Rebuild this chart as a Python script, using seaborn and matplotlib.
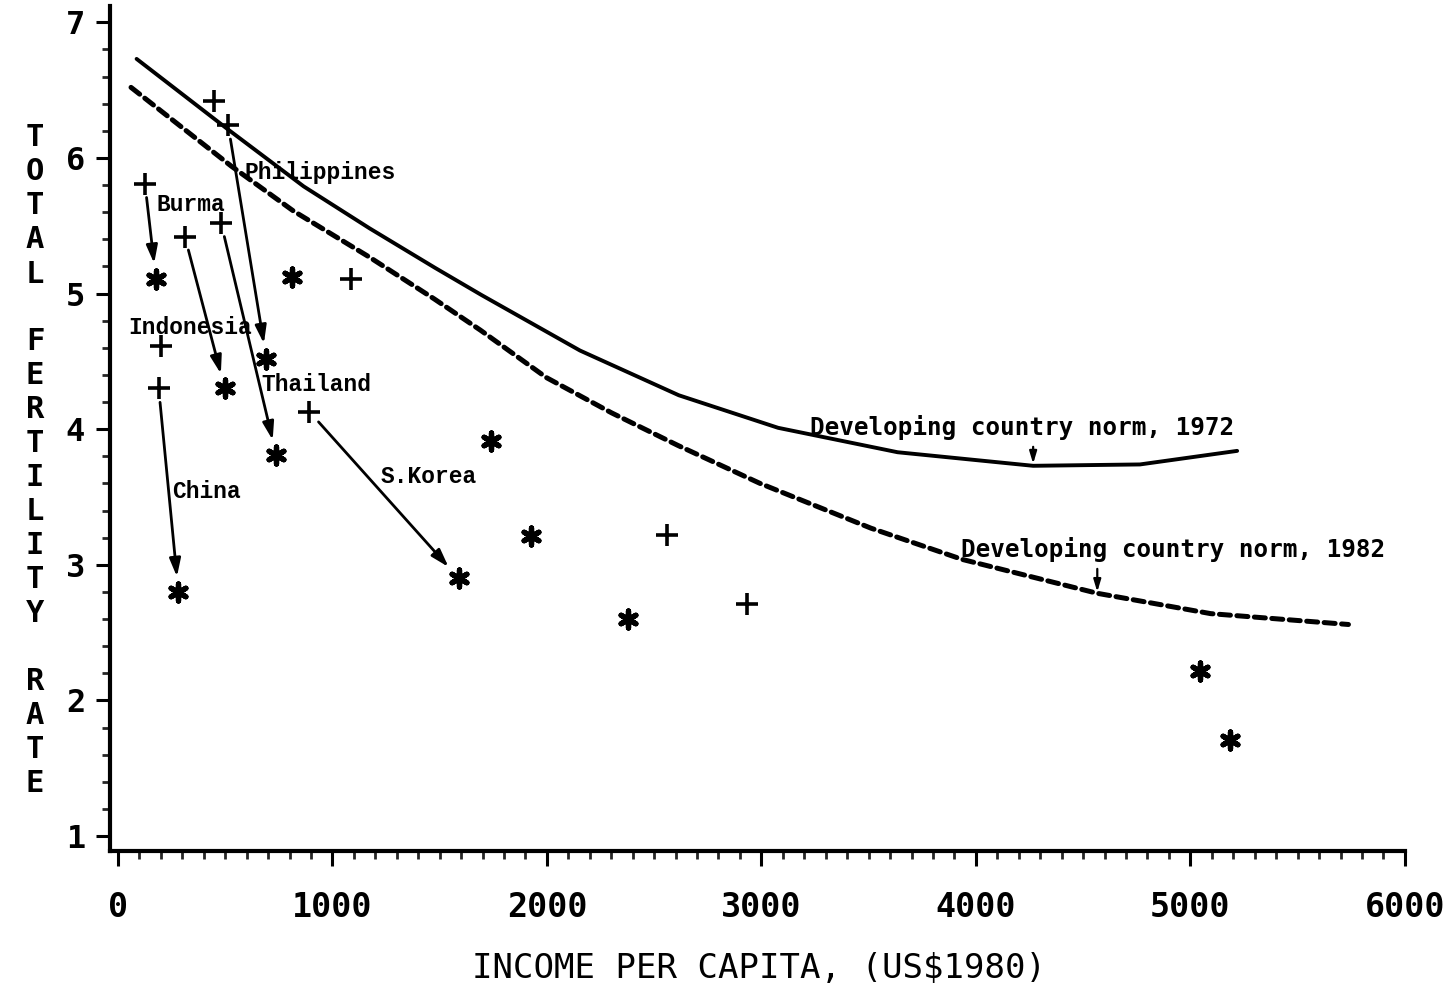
import matplotlib
matplotlib.use("Agg")
import matplotlib.pyplot as plt
from matplotlib.ticker import MultipleLocator
import numpy as np
import pandas as pd
import seaborn as sns

# ---------------- data ----------------
# "+" : 1972 observations, "*" : 1982 observations
inc_1972 = [447, 514, 126, 312, 481, 1087, 199, 190, 892, 2559, 2935]
tfr_1972 = [6.42, 6.24, 5.81, 5.42, 5.52, 5.11, 4.61, 4.30, 4.13, 3.22, 2.71]

inc_1982 = [177, 812, 692, 498, 738, 282, 1589, 1738, 1924, 2378, 5046, 5183]
tfr_1982 = [5.11, 5.12, 4.52, 4.30, 3.81, 2.80, 2.90, 3.91, 3.21, 2.60, 2.22, 1.71]

# developing-country norm curves
norm72_inc = [87, 513, 866, 1174, 1478, 1694, 2154, 2615, 3078, 3635, 4267, 4765, 5218]
norm72_tfr = [6.73, 6.21, 5.79, 5.48, 5.19, 4.99, 4.58, 4.25, 4.01, 3.83, 3.73, 3.74, 3.84]

norm82_inc = [61, 528, 817, 1171, 1475, 1690, 1998, 2302, 2611, 2994, 3511, 3936, 4566, 5095, 5737]
norm82_tfr = [6.52, 5.94, 5.61, 5.27, 4.96, 4.73, 4.38, 4.12, 3.88, 3.60, 3.27, 3.04, 2.79, 2.64, 2.56]

# country arrows: index into 1972 arrays -> index into 1982 arrays
countries = ["Burma", "Indonesia", "Thailand", "Philippines", "China", "S.Korea"]
idx_1972 = [2, 3, 4, 1, 7, 8]
idx_1982 = [0, 3, 4, 2, 5, 6]
label_x = [180, 47, 669, 588, 254, 1224]
label_y = [5.66, 4.75, 4.33, 5.89, 3.54, 3.65]

norm_labels = ["Developing country norm, 1972", "Developing country norm, 1982"]
norm_label_x = [3227, 3932]
norm_label_y = [4.01, 3.11]
norm_arrow_x = [4267, 4566]
norm_arrow_from = [3.87, 2.97]
norm_arrow_to = [3.745, 2.80]

x_ticks = [0, 1000, 2000, 3000, 4000, 5000, 6000]
y_ticks = [1, 2, 3, 4, 5, 6, 7]
x_title = "INCOME PER CAPITA, (US\\$1980)"
y_title = "TOTAL FERTILITY RATE"

# ---------------- style ----------------
sns.set_theme(style="white")
plt.rcParams["font.family"] = ["DejaVu Sans Mono", "DejaVu Sans"]
plt.rcParams["lines.solid_capstyle"] = "round"

fig = plt.figure(figsize=(14.52, 9.93), dpi=100)
W, H = 1452, 993
ax = fig.add_axes([110 / W, 1 - 851 / H, 1297 / W, 845 / H])

df72 = pd.DataFrame({"inc": norm72_inc, "tfr": norm72_tfr})
df82 = pd.DataFrame({"inc": norm82_inc, "tfr": norm82_tfr})
sns.lineplot(data=df72, x="inc", y="tfr", ax=ax, color="black", lw=2.8,
             sort=False, estimator=None)
sns.lineplot(data=df82, x="inc", y="tfr", ax=ax, color="black", lw=3.6,
             sort=False, estimator=None)
ax.lines[-1].set_dashes([2.2, 1.3])
ax.lines[-1].set_dash_capstyle("round")

sns.scatterplot(x=inc_1972, y=tfr_1972, ax=ax, marker="+", s=240,
                color="black", linewidth=2.6, zorder=5)
sns.scatterplot(x=inc_1982, y=tfr_1982, ax=ax, marker=(6, 2, 0), s=150,
                color="black", linewidth=3.8, zorder=5)

# arrows for individual countries
for name, i72, i82, lx, ly in zip(countries, idx_1972, idx_1982, label_x, label_y):
    ax.annotate("", xy=(inc_1982[i82], tfr_1982[i82]),
                xytext=(inc_1972[i72], tfr_1972[i72]),
                arrowprops=dict(arrowstyle="-|>,head_length=0.9,head_width=0.28",
                                color="black", lw=2.0, shrinkA=10, shrinkB=11))
    ax.text(lx, ly, name, ha="left", va="center", fontsize=16.5,
            fontweight="bold", family=["Liberation Mono", "DejaVu Sans Mono"],
            color="black", zorder=6)

# norm labels with small arrows
for t, lx, ly, axx, yf, yt in zip(norm_labels, norm_label_x, norm_label_y,
                                  norm_arrow_x, norm_arrow_from, norm_arrow_to):
    ax.text(lx, ly, t, ha="left", va="center", fontsize=17.5,
            fontweight="bold", family=["DejaVu Sans Mono"], color="black",
            zorder=6)
    ax.annotate("", xy=(axx, yt), xytext=(axx, yf),
                arrowprops=dict(arrowstyle="-|>,head_length=0.6,head_width=0.18",
                                color="black", lw=1.6, shrinkA=0, shrinkB=0))

# ---------------- axes ----------------
ax.set_xlim(-37, 6010)
ax.set_ylim(0.89, 7.12)
for s in ["top", "right"]:
    ax.spines[s].set_visible(False)
for s in ["left", "bottom"]:
    ax.spines[s].set_linewidth(3.0)
    ax.spines[s].set_color("black")
ax.spines["bottom"].set_bounds(-37, 6000)

ax.set_xticks(x_ticks)
ax.set_yticks(y_ticks)
ax.xaxis.set_minor_locator(MultipleLocator(100))
ax.yaxis.set_minor_locator(MultipleLocator(0.2))
ax.tick_params(axis="x", which="major", direction="out", length=11, width=2.2,
               pad=18, labelsize=24, colors="black")
ax.tick_params(axis="x", which="minor", direction="out", length=6, width=2.0)
ax.tick_params(axis="y", which="major", direction="out", length=10, width=2.2,
               pad=8, labelsize=23, colors="black")
ax.tick_params(axis="y", which="minor", direction="out", length=6, width=2.0)
ax.tick_params(bottom=True, left=True, which="both")
for lab in ax.get_xticklabels() + ax.get_yticklabels():
    lab.set_fontweight("bold")
    lab.set_family("DejaVu Sans Mono")

ax.set_xlabel(x_title, fontsize=24.5, labelpad=20, color="black",
              family="DejaVu Sans Mono")
ax.set_ylabel("")
ax.grid(False)

# vertical stacked y-axis title
for i, ch in enumerate(y_title):
    if ch == " ":
        continue
    fig.text(35 / W, 1 - (138 + 34 * i) / H, ch, ha="center", va="center",
             fontsize=22, fontweight="bold", family="DejaVu Sans Mono",
             color="black")

fig.savefig("out.png", dpi=100, facecolor="white")
